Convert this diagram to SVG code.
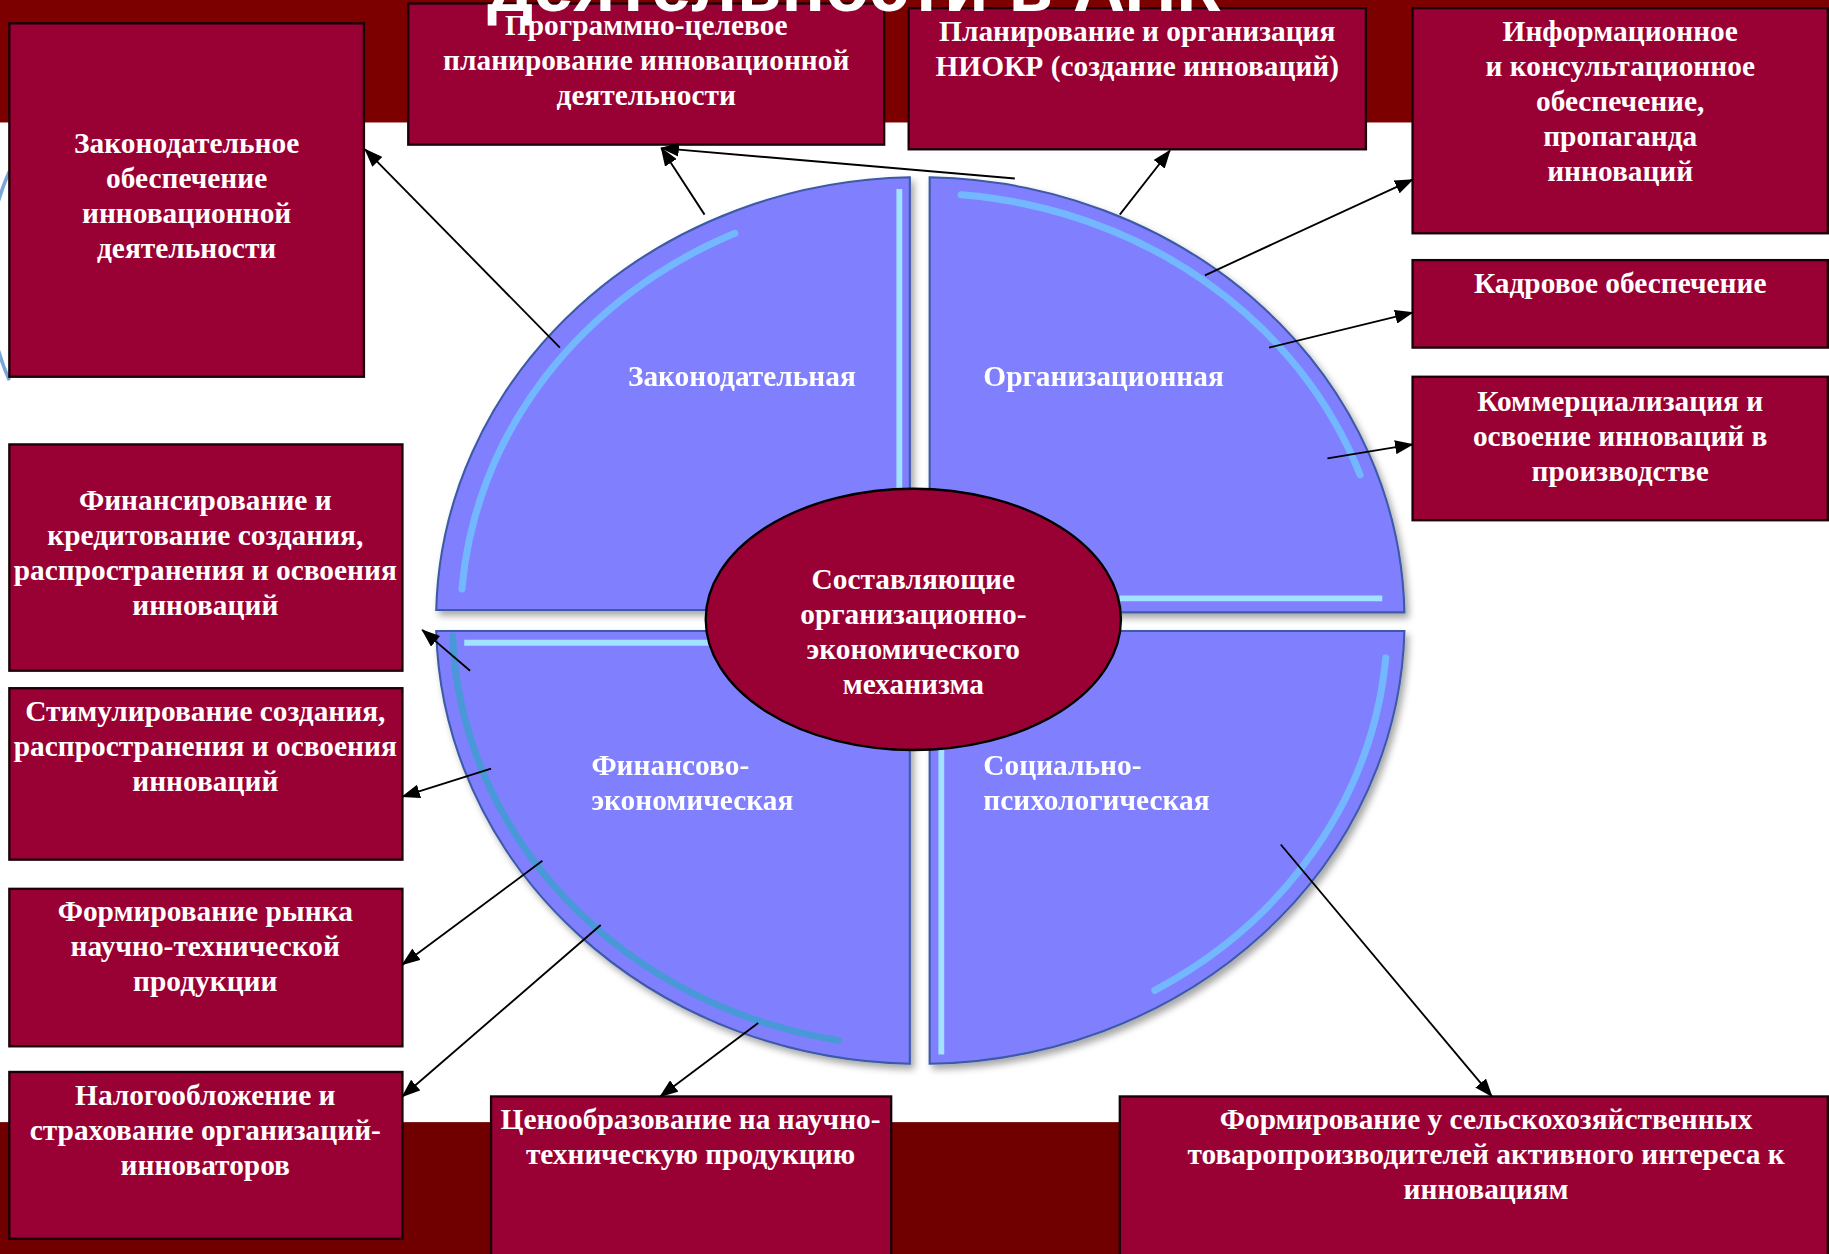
<svg xmlns="http://www.w3.org/2000/svg" width="1829" height="1254" viewBox="0 0 1829 1254">
<defs>
<style>
.box{fill:#990033;stroke:#1a0008;stroke-width:2}
.t{font-family:"Liberation Serif","Times New Roman",serif;font-weight:bold;font-size:25.2px;fill:#ffffff;text-anchor:middle}
.ql{font-family:"Liberation Serif","Times New Roman",serif;font-weight:bold;font-size:25.2px;fill:#ffffff}
.quad{fill:#8080ff;stroke:#3d5aa8;stroke-width:1.8}
.hl{fill:none;stroke:#6fc6ff;stroke-width:6;stroke-linecap:round;opacity:0.8}
.hl2{fill:none;stroke:#a6ecff;stroke-width:5;opacity:0.9}
.con{stroke:#000;stroke-width:1.6;fill:none;marker-end:url(#ah)}
</style>
<marker id="ah" markerUnits="userSpaceOnUse" markerWidth="16" markerHeight="12" refX="15" refY="6" orient="auto">
<path d="M0,0 L16,6 L0,12 Z" fill="#000"/>
</marker>
<filter id="sh" x="-10%" y="-10%" width="120%" height="120%">
<feDropShadow dx="3" dy="4" stdDeviation="3" flood-color="#000" flood-opacity="0.35"/>
</filter>
</defs>
<rect x="0" y="0" width="1829" height="1254" fill="#ffffff"/>
<g transform="scale(1.16645)">
<g id="background">
<rect x="0" y="0" width="1568" height="105" fill="#7d0000"/>
<rect x="0" y="962" width="1568" height="114" fill="#700000"/>
<path d="M8,147 C-16,200 -16,272 8,326" fill="none" stroke="#7aa6d6" stroke-width="3"/>
</g>
<g id="wheel">
<g id="q-legal" filter="url(#sh)">
<path class="quad" d="M780,523 L780,152 A415,380 0 0 0 374,523 Z"/>
<path class="hl" d="M630,200 A401,366 0 0 0 396,505"/>
<line class="hl2" x1="771" y1="162" x2="771" y2="514"/>
<text class="ql" x="636" y="331" text-anchor="middle">Законодательная</text>
</g>
<g id="q-org" filter="url(#sh)">
<path class="quad" d="M797,525 L797,152 A415,380 0 0 1 1204,525 Z"/>
<path class="hl" d="M824,167 A401,366 0 0 1 1166,407"/>
<line class="hl2" x1="960" y1="513" x2="1185" y2="513"/>
<text class="ql" x="843" y="331">Организационная</text>
</g>
<g id="q-fin" filter="url(#sh)">
<path class="quad" d="M780,541 L374,541 A415,380 0 0 0 780,912 Z"/>
<path class="hl" d="M388,545 A401,366 0 0 0 719,892" style="stroke:#3a9fd0"/>
<line class="hl2" x1="398" y1="551" x2="770" y2="551"/>
<text class="ql" x="507" y="664">Финансово-</text>
<text class="ql" x="507" y="694">экономическая</text>
</g>
<g id="q-soc" filter="url(#sh)">
<path class="quad" d="M797,541 L797,912 A415,380 0 0 0 1204,541 Z"/>
<path class="hl" d="M1188,564 A401,366 0 0 1 990,849"/>
<line class="hl2" x1="807" y1="552" x2="807" y2="904"/>
<text class="ql" x="843" y="664">Социально-</text>
<text class="ql" x="843" y="694">психологическая</text>
</g>
<g id="center">
<ellipse cx="783" cy="531" rx="178" ry="112" fill="#990033" stroke="#000" stroke-width="2"/>
<text class="t" x="783" y="505">Составляющие</text>
<text class="t" x="783" y="535">организационно-</text>
<text class="t" x="783" y="565">экономического</text>
<text class="t" x="783" y="595">механизма</text>
</g>
</g>
<g id="b-zak">
<rect class="box" x="8" y="20" width="304" height="303"/>
<text class="t" x="160" y="131">Законодательное</text>
<text class="t" x="160" y="161">обеспечение</text>
<text class="t" x="160" y="191">инновационной</text>
<text class="t" x="160" y="221">деятельности</text>
</g>
<g id="b-prog">
<rect class="box" x="350" y="3" width="408" height="121"/>
<text class="t" x="554" y="30">Программно-целевое</text>
<text class="t" x="554" y="60">планирование инновационной</text>
<text class="t" x="554" y="90">деятельности</text>
</g>
<g id="b-plan">
<rect class="box" x="779" y="7" width="392" height="121"/>
<text class="t" x="975" y="35">Планирование и организация</text>
<text class="t" x="975" y="65">НИОКР (создание инноваций)</text>
</g>
<g id="b-info">
<rect class="box" x="1211" y="7" width="356" height="193"/>
<text class="t" x="1389" y="35">Информационное</text>
<text class="t" x="1389" y="65">и консультационное</text>
<text class="t" x="1389" y="95">обеспечение,</text>
<text class="t" x="1389" y="125">пропаганда</text>
<text class="t" x="1389" y="155">инноваций</text>
</g>
<g id="b-kadr">
<rect class="box" x="1211" y="223" width="356" height="75"/>
<text class="t" x="1389" y="251">Кадровое обеспечение</text>
</g>
<g id="b-komm">
<rect class="box" x="1211" y="323" width="356" height="123"/>
<text class="t" x="1389" y="352">Коммерциализация и</text>
<text class="t" x="1389" y="382">освоение инноваций в</text>
<text class="t" x="1389" y="412">производстве</text>
</g>
<g id="b-finans">
<rect class="box" x="8" y="381" width="337" height="194"/>
<text class="t" x="176" y="437">Финансирование и</text>
<text class="t" x="176" y="467">кредитование создания,</text>
<text class="t" x="176" y="497">распространения и освоения</text>
<text class="t" x="176" y="527">инноваций</text>
</g>
<g id="b-stim">
<rect class="box" x="8" y="590" width="337" height="147"/>
<text class="t" x="176" y="618">Стимулирование создания,</text>
<text class="t" x="176" y="648">распространения и освоения</text>
<text class="t" x="176" y="678">инноваций</text>
</g>
<g id="b-rynok">
<rect class="box" x="8" y="762" width="337" height="135"/>
<text class="t" x="176" y="790">Формирование рынка</text>
<text class="t" x="176" y="820">научно-технической</text>
<text class="t" x="176" y="850">продукции</text>
</g>
<g id="b-nalog">
<rect class="box" x="8" y="919" width="337" height="143"/>
<text class="t" x="176" y="947">Налогообложение и</text>
<text class="t" x="176" y="977">страхование организаций-</text>
<text class="t" x="176" y="1007">инноваторов</text>
</g>
<g id="b-cena">
<rect class="box" x="421" y="940" width="343" height="140"/>
<text class="t" x="592" y="968">Ценообразование на научно-</text>
<text class="t" x="592" y="998">техническую продукцию</text>
</g>
<g id="b-interes">
<rect class="box" x="960" y="940" width="607" height="140"/>
<text class="t" x="1274" y="968">Формирование у сельскохозяйственных</text>
<text class="t" x="1274" y="998">товаропроизводителей активного интереса к</text>
<text class="t" x="1274" y="1028">инновациям</text>
</g>
<g id="connectors">
<line class="con" x1="480" y1="298" x2="313" y2="128"/>
<line class="con" x1="604" y1="184" x2="567" y2="127"/>
<line class="con" x1="870" y1="153" x2="567" y2="127"/>
<line class="con" x1="960" y1="184" x2="1003" y2="129"/>
<line class="con" x1="1033" y1="236" x2="1211" y2="154"/>
<line class="con" x1="1088" y1="298" x2="1211" y2="268"/>
<line class="con" x1="1138" y1="393" x2="1211" y2="381"/>
<line class="con" x1="403" y1="575" x2="362" y2="540"/>
<line class="con" x1="421" y1="659" x2="345" y2="683"/>
<line class="con" x1="465" y1="738" x2="345" y2="827"/>
<line class="con" x1="515" y1="793" x2="345" y2="940"/>
<line class="con" x1="650" y1="877" x2="566" y2="940"/>
<line class="con" x1="1098" y1="724" x2="1279" y2="940"/>
</g>
<text id="title" x="732" y="9" text-anchor="middle" font-family="'Liberation Sans', Arial, sans-serif" font-weight="bold" font-size="62" fill="#ffffff">деятельности в АПК</text>
</g>
</svg>
